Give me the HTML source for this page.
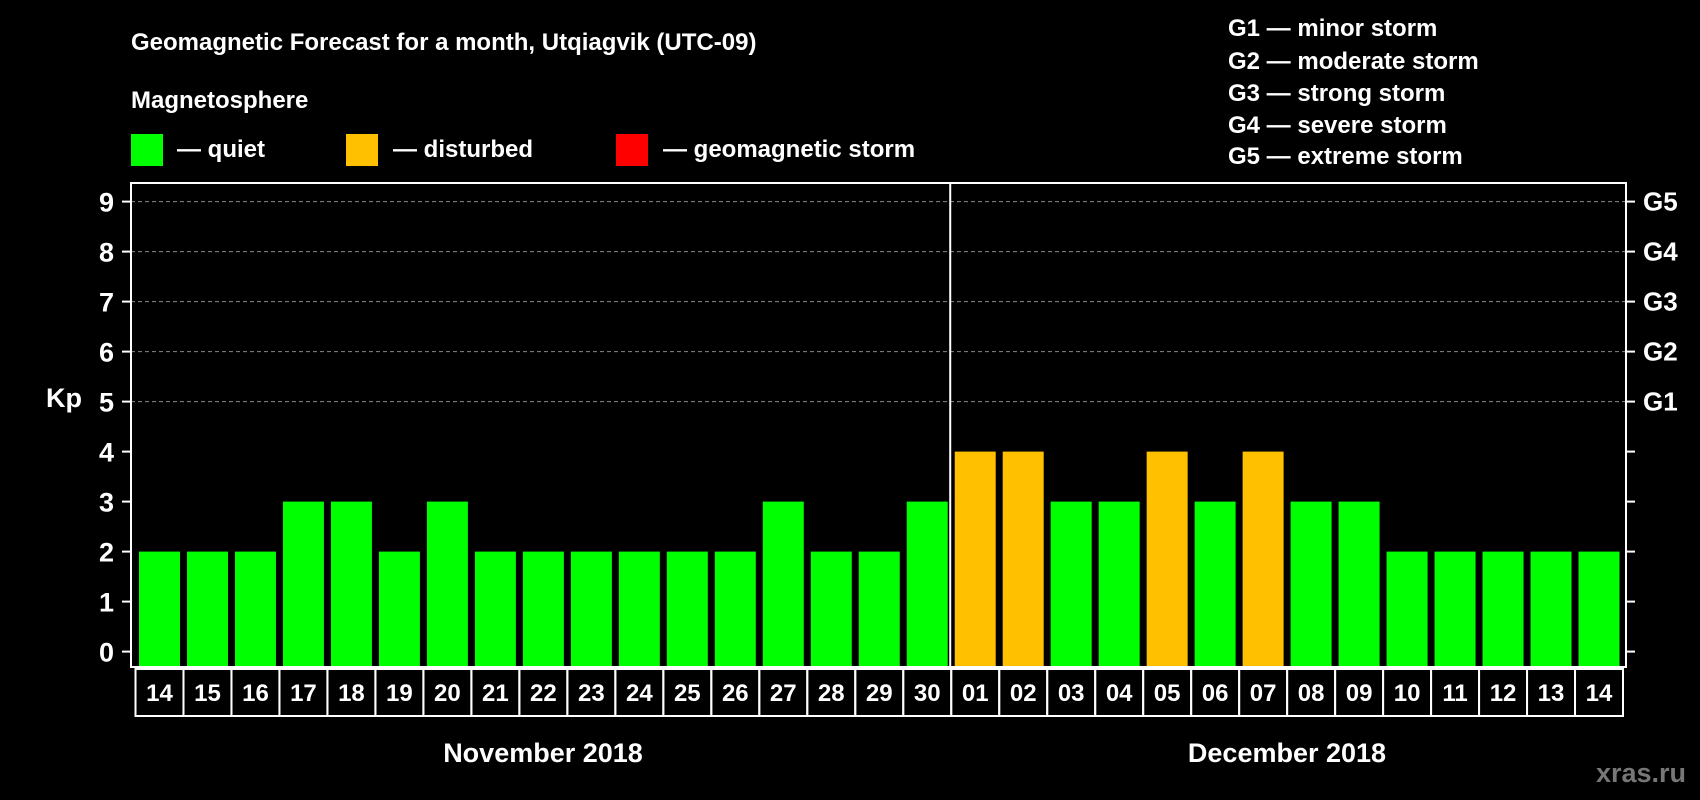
<!DOCTYPE html>
<html><head><meta charset="utf-8"><style>
html,body{margin:0;padding:0;background:#000;}
svg{display:block;font-family:"Liberation Sans",Arial,sans-serif;font-weight:bold;}
</style></head><body>
<svg id="chart" width="1700" height="800" viewBox="0 0 1700 800" xmlns="http://www.w3.org/2000/svg">
<rect x="0" y="0" width="1700" height="800" fill="#000"/>
<text x="131" y="50" fill="#fff" font-size="24">Geomagnetic Forecast for a month, Utqiagvik (UTC-09)</text>
<text x="131" y="108" fill="#fff" font-size="24">Magnetosphere</text>
<g><rect x="131" y="134" width="32" height="32" fill="#00ff00"/><text x="177" y="157" fill="#fff" font-size="24">— quiet</text></g>
<g><rect x="346" y="134" width="32" height="32" fill="#ffc000"/><text x="393" y="157" fill="#fff" font-size="24">— disturbed</text></g>
<g><rect x="616" y="134" width="32" height="32" fill="#ff0000"/><text x="663" y="157" fill="#fff" font-size="24">— geomagnetic storm</text></g>
<g fill="#fff" font-size="24">
<text x="1228" y="36">G1 — minor storm</text>
<text x="1228" y="69">G2 — moderate storm</text>
<text x="1228" y="101">G3 — strong storm</text>
<text x="1228" y="133">G4 — severe storm</text>
<text x="1228" y="164">G5 — extreme storm</text>
</g>
<text x="64" y="407" fill="#fff" font-size="27" text-anchor="middle">Kp</text>
<g id="grid"></g>
<g id="bars"></g>
<g id="axes"></g>
<text x="543" y="762" fill="#fff" font-size="27" text-anchor="middle">November 2018</text>
<text x="1287" y="762" fill="#fff" font-size="27" text-anchor="middle">December 2018</text>
<text x="1686" y="782" fill="#777" font-size="27" text-anchor="end">xras.ru</text>
</svg>
<script>
const days = ["14","15","16","17","18","19","20","21","22","23","24","25","26","27","28","29","30","01","02","03","04","05","06","07","08","09","10","11","12","13","14"];
const kpValues = [2,2,2,3,3,2,3,2,2,2,2,2,2,3,2,2,3,4,4,3,3,4,3,4,3,3,2,2,2,2,2];
const yTicks = [0,1,2,3,4,5,6,7,8,9];
const gLabels = ["G1","G2","G3","G4","G5"];
const gLevels = [5,6,7,8,9];
const monthSplitIndex = 17;

const NS = "http://www.w3.org/2000/svg";
const plotL = 131, plotR = 1626, plotT = 183, plotB = 667;
const cellL = 135.5, cellW = (1623 - 135.5) / days.length;
function yScale(v){ return 651.6 - v * 50; }
function xScale(i){ return cellL + i * cellW; }
function mk(tag, attrs, parent){ const e = document.createElementNS(NS, tag); for (const k in attrs) e.setAttribute(k, attrs[k]); parent.appendChild(e); return e; }

const grid = document.getElementById("grid");
const bars = document.getElementById("bars");
const axes = document.getElementById("axes");

gLevels.forEach((lv, i) => {
  const l = mk("line", {x1: plotL, x2: plotR, y1: yScale(lv), y2: yScale(lv), stroke: "#888", "stroke-width": 1, "stroke-dasharray": "4,3"}, grid);
  
  
  const t = mk("text", {x: 1643, y: yScale(lv) + 9, fill: "#fff", "font-size": 26}, axes);
  t.textContent = gLabels[i];
  
  
});

kpValues.forEach((v, i) => {
  const r = mk("rect", {x: xScale(i) + 3.5, y: yScale(v), width: cellW - 7, height: plotB - 1 - yScale(v), fill: v >= 5 ? "#ff0000" : (v >= 4 ? "#ffc000" : "#00ff00")}, bars);
  
  
});

const frame = mk("rect", {x: plotL, y: plotT, width: plotR - plotL, height: plotB - plotT, fill: "none", stroke: "#fff", "stroke-width": 2}, axes);


const div = mk("line", {x1: xScale(monthSplitIndex) - 1, x2: xScale(monthSplitIndex) - 1, y1: plotT, y2: plotB, stroke: "#fff", "stroke-width": 2}, axes);



yTicks.forEach(v => {
  const t1 = mk("line", {x1: plotL - 9, x2: plotL, y1: yScale(v), y2: yScale(v), stroke: "#fff", "stroke-width": 2}, axes);
  
  
  const t2 = mk("line", {x1: plotR, x2: plotR + 9, y1: yScale(v), y2: yScale(v), stroke: "#fff", "stroke-width": 2}, axes);
  
  
  const lbl = mk("text", {x: 114, y: yScale(v) + 10, fill: "#fff", "font-size": 27, "text-anchor": "end"}, axes);
  lbl.textContent = v;
  
  
});

days.forEach((d, i) => {
  const c = mk("rect", {x: xScale(i), y: 669, width: cellW, height: 47, fill: "none", stroke: "#fff", "stroke-width": 2}, axes);
  
  
  const t = mk("text", {x: xScale(i) + cellW / 2, y: 701, fill: "#fff", "font-size": 24, "text-anchor": "middle"}, axes);
  t.textContent = d;
  
  
});
</script>
</body></html>
